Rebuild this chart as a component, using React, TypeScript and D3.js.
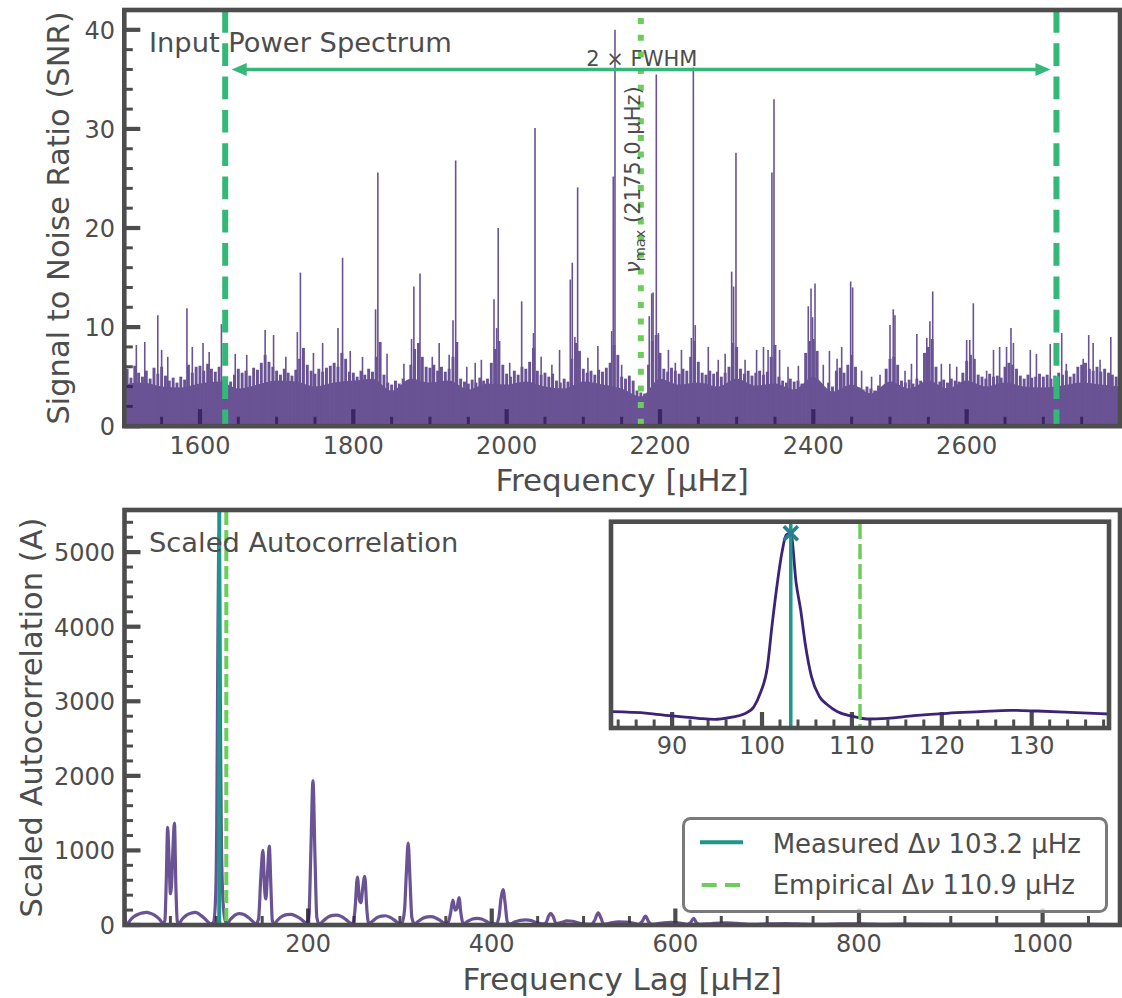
import React from 'react';
import * as d3 from 'd3';

// ---------------- DATA ----------------
// Top panel: power spectrum local maxima, sampled every 5 µHz from 1500 µHz
const bgStartFreq = 1500;
const bgStepFreq = 5;
const bgSnr = [
  5.2,5.8,4.9,6.1,5.4,5.0,5.6,4.8,5.9,5.3,6.0,5.1,4.6,4.9,4.4,5.0,4.7,6.2,5.4,6.0,
  6.1,5.6,6.3,5.8,5.5,6.0,4.6,4.2,4.5,5.2,5.8,5.4,5.6,5.1,5.9,5.7,6.4,7.2,6.5,6.0,
  5.6,5.2,5.8,5.4,5.1,5.7,6.8,7.9,6.2,5.6,5.3,5.8,5.5,5.9,6.1,6.4,6.0,7.4,6.8,5.5,
  5.4,5.0,5.6,5.2,5.8,5.5,7.0,8.5,5.2,4.4,4.2,4.6,4.3,4.8,4.5,6.2,7.8,8.4,7.0,6.0,
  5.9,6.2,5.6,6.0,5.5,5.8,7.0,8.5,4.8,4.5,4.3,4.7,4.4,4.9,4.6,4.8,6.4,7.8,8.6,6.2,
  5.3,5.0,5.6,5.2,6.0,5.8,6.5,7.9,5.6,5.2,5.4,5.0,5.3,4.6,4.4,4.8,4.5,6.8,8.4,7.6,
  5.8,5.4,5.6,5.2,5.7,5.5,5.9,6.4,8.2,7.2,5.0,4.8,5.1,4.6,3.6,3.4,3.3,6.2,8.6,9.2,
  7.4,5.8,5.5,5.9,5.6,5.3,5.8,5.6,7.0,8.6,6.5,5.4,5.2,5.6,5.3,5.5,5.0,5.4,6.0,8.4,
  8.0,5.8,5.3,5.6,5.1,5.4,5.6,5.2,5.5,7.0,8.2,5.0,4.6,4.4,4.8,4.5,4.6,4.3,7.4,8.6,
  8.8,7.6,4.2,3.9,4.4,4.0,5.6,5.9,5.4,6.2,7.2,6.0,3.9,3.7,4.0,3.8,3.6,4.1,3.9,5.8,
  6.8,7.0,6.2,4.6,4.4,4.7,4.3,4.8,4.6,7.4,8.0,8.8,6.0,4.5,4.7,4.4,4.8,4.6,4.5,5.4,
  6.6,7.2,6.8,5.2,5.0,4.8,5.3,5.0,5.1,4.9,6.0,6.4,6.2,5.8,5.1,4.8,5.2,4.9,5.0,5.3,
  5.0,5.2,4.8,5.1,5.4,5.2,5.6,5.0,5.3,6.0,6.2,6.4,5.8,5.6,6.0,5.5,5.8,5.4,5.2,5.0,
];

// Solid lower band of the spectrum, sampled every 25 µHz from 1500 µHz
const floorStepFreq = 25;
const floorSnr = [
  4.2,4.4,4.0,3.9, 4.3,4.5,3.8,4.2, 4.6,4.5,4.0,4.4, 4.6,4.8,3.6,4.8, 4.4,4.6,3.7,4.3,
  4.2,4.5,4.0,3.8, 4.5,4.2,3.8,3.0, 4.8,4.2,4.4,4.0, 4.8,4.1,4.3,3.7, 5.0,3.5,4.2,3.3,
  4.5,3.8,4.6,3.8, 4.6,4.0,4.4,4.0, 3.9,4.1,4.4,4.2, 4.0,
];

// Individual spikes (mode peaks and noise spikes)
const spikeFreq = [
  1517,1528,1545,1550,1558,1583,1590,1604,1612,1628,1646,1661,1685,1696,1712,1727,1731,1748,1760,1780,
  1786,1796,1812,1829,1832,1844,1866,1876,1879,1887,1903,1912,1925,1930,1933.5,
  1948,1959,1967,1983.5,1987,1989,2004,2019.6,2035,2037,2045,2059,2069,2083,2085.6,2089,2092.6,2106,2119,
  2137,2139.1,2141.3,2150,2186,2189.2,2191,2195.2,2198,2211,2220,2228,2241,2243.5,2246,2263,2276,2285,
  2293.5,2296,2299.1,2311,2326,2335,2341,2346,2348.7,2356,2367,
  2380.5,2393.4,2397,2399,2402.2,2413,2421,2431,2437,2448.7,2451.3,2463,2476,2487,2500,2504.3,2506.5,
  2519.6,2528,2535,2548,2552,2555.7,2567,2578,2587,2600,2604,2608.7,2626,2635,2643,2652,2657.8,2661,
  2683,2691,2709,2724,2730,2752,2759.2,2765,2774,2788,
];
const spikeSnr = [
  8.2,8.5,11.2,7.7,7.0,11.9,8.0,8.4,7.5,10.3,7.3,7.2,9.7,9.2,7.0,9.5,15.5,7.4,8.4,9.9,
  17.0,7.6,7.0,11.8,25.6,7.3,6.3,8.8,14.1,15.4,7.0,8.4,7.2,10.7,26.8,
  6.0,6.4,6.7,12.8,9.9,20.0,6.4,12.6,9.4,30.1,7.0,6.2,7.7,14.8,16.5,9.0,24.1,6.9,8.1,
  9.6,25.2,40.0,6.2,11.1,13.4,13.5,35.5,9.4,7.7,6.4,7.7,8.9,36.2,10.2,8.0,6.7,7.3,
  15.6,14.1,27.6,6.7,7.7,8.0,7.7,25.6,33.0,7.7,6.0,
  6.1,12.1,13.9,11.0,14.4,6.2,7.6,6.8,8.0,14.6,14.0,5.6,5.0,5.2,10.2,11.8,11.2,
  5.6,6.3,9.3,8.9,10.6,13.6,6.3,6.3,6.0,8.7,8.7,12.4,5.6,7.7,8.0,8.0,9.9,8.4,
  7.7,7.3,8.3,9.4,6.3,6.8,9.2,8.4,6.7,9.0,
];

const numax = 2175.0;
const fwhmEdges = [1632.9, 2717.1];

// Bottom panel: scaled autocorrelation vs frequency lag
const acfLag = [
  0,1.5,3,6,10,15,20,24,28,33,38,42,44,45.5,47,48.5,50,51.5,53,54.4,56,57.5,59,63,68,73,77,82,87,91,94,97,
  99,100.5,101.7,102.5,103.2,104,104.8,105.6,106.8,108,110,112,115,120,125,130,135,140,143,146,148.5,150.8,
  152.5,154,155.8,157.7,159.5,161,163,167,172,177,181,186,191,196,199,201,203,205.3,207.5,209.5,212,217,
  222,227,231,236,241,246,249,251,253.7,256,257.5,259.5,261.7,264,266,270,275,280,284,289,294,299,302,305,
  307,309,311,313,316,320,325,330,334,339,344,349,352,355,357.7,360,362,364.3,366.5,369,374,379,384,389,
  394,399,405,408,410,412.3,414.5,417,420,425,431,437,443,449,455,459,462,464.3,467,470,476,482,488,494,
  500,508,512,515.9,519,522,530,538,546,554,560,564,567.5,571,575,585,595,605,613,617,620,623,627,640,655,
  670,680,700,720,740,760,780,800,830,860,900,950,1000,1050,1084,
];
const acfValue = [
  250,30,10,60,110,145,162,168,158,130,80,25,60,600,1310,900,420,600,1100,1365,500,50,20,80,135,160,168,140,90,40,15,40,
  300,1400,3800,5000,5260,3900,2200,1100,450,200,50,20,70,130,152,140,100,45,15,80,650,1000,
  500,350,700,1058,500,60,15,70,120,140,142,125,90,40,15,150,1000,1933,900,100,15,60,
  110,130,133,115,75,25,20,200,644,330,300,500,653,200,15,50,100,120,124,105,65,20,15,200,
  700,1098,600,100,15,50,90,108,111,95,60,20,20,150,333,200,220,369,150,15,50,80,89,80,
  50,15,15,120,350,476,300,40,15,40,62,70,60,30,15,30,120,156,110,20,35,55,50,30,
  12,10,60,164,90,10,30,42,40,25,10,50,120,40,10,25,35,25,10,40,90,30,8,20,28,
  20,8,15,20,12,8,14,16,10,12,10,8,10,8,6,
];

// Inset (zoom around the measured Δν)
const insetLag = [
  83.2,87.3,89.7,92.9,94.7,96.5,98.0,99.1,99.8,100.6,101.1,101.7,102.2,102.7,103.2,103.8,104.3,104.8,
  105.5,106.4,107.3,108.4,109.9,111.7,113.9,116.9,120.6,124.3,127.6,130.6,134.3,138.6,
];
const insetValue = [
  244,199,131,58,30,86,179,385,762,1512,2639,3861,4706,5222,5270,3861,3109,2171,
  1230,667,433,244,123,39,58,131,199,244,284,264,227,179,
];

const measuredDnu = 103.2;
const empiricalDnu = 110.9;
const peakValue = 5270;

const topXTicks = [1600, 1800, 2000, 2200, 2400, 2600];
const topYTicks = [0, 10, 20, 30, 40];
const botXTicks = [200, 400, 600, 800, 1000];
const botYTicks = [0, 1000, 2000, 3000, 4000, 5000];
const insetXTicks = [90, 100, 110, 120, 130];

// ---------------- STYLE ----------------
const FONT = "'DejaVu Sans', 'Noto Sans', sans-serif";
const TXT = '#4d4d4d';
const SPINE = '#4d4d4d';
const PURPLE = '#36176f';
const INSET_PURPLE = '#3b2379';
const GREEN = '#35b779';
const LGREEN = '#6ccd5a';
const TEAL = '#1f968b';
const MARK = '#26808e';

export default function App() {
  const tx = d3.scaleLinear().domain([1500, 2800]).range([123.3, 1120]);
  const ty = d3.scaleLinear().domain([0, 42]).range([426.2, 10]);
  const bx = d3.scaleLinear().domain([0, 1084.3]).range([124.5, 1120]);
  const by = d3.scaleLinear().domain([0, 5565]).range([925, 510]);
  const ix = d3.scaleLinear().domain([83.2, 138.6]).range([611, 1109]);
  const iy = d3.scaleLinear().domain([-215, 5596]).range([728, 521.7]);

  const floorPts = floorSnr.map((v, i) => [bgStartFreq + i * floorStepFreq, v] as [number, number]);
  const floorArea = d3.area<[number, number]>()
    .x(d => tx(d[0])).y0(ty(0)).y1(d => ty(d[1])).curve(d3.curveMonotoneX)(floorPts) || '';

  const acfPts = acfLag.map((l, i) => [l, acfValue[i]] as [number, number]);
  const acfPath = d3.line<[number, number]>().x(d => bx(d[0])).y(d => by(d[1])).curve(d3.curveMonotoneX)(acfPts) || '';
  const insetPts = insetLag.map((l, i) => [l, insetValue[i]] as [number, number]);
  const insetPath = d3.line<[number, number]>().x(d => ix(d[0])).y(d => iy(d[1])).curve(d3.curveMonotoneX)(insetPts) || '';

  const range = (a: number, b: number, s: number) => d3.range(a, b + 1e-9, s);

  const topXMinor = range(1550, 2800, 50).filter(v => v % 200 !== 0);
  const topYMinor = range(2, 42, 2).filter(v => v % 10 !== 0);
  const botXMinor = range(50, 1084, 50).filter(v => v % 200 !== 0);
  const botYMinor = range(200, 5565, 200).filter(v => v % 1000 !== 0);
  const insetMinor = range(84, 138.6, 2).filter(v => v % 10 !== 0);

  const L_TOP = 124.3, R = 1120;

  const vTicks = (xs: number[], sc: (v: number) => number, y0: number, len: number, w: number, key: string) =>
    xs.map(v => <line key={key + v} x1={sc(v)} x2={sc(v)} y1={y0} y2={y0 - len} stroke={SPINE} strokeWidth={w} />);
  const hTicks = (ys: number[], sc: (v: number) => number, x0: number, len: number, w: number, key: string) =>
    ys.map(v => <line key={key + v} x1={x0} x2={x0 + len} y1={sc(v)} y2={sc(v)} stroke={SPINE} strokeWidth={w} />);

  const arrowY = 69.5;
  const aL = tx(fwhmEdges[0]) + 6.5;
  const aR = tx(fwhmEdges[1]) - 6;

  return (
    <svg width={1122} height={998} style={{ position: 'absolute', left: 0, top: 0, background: '#fff' }}
      fontFamily={FONT}>
      <defs>
        <clipPath id="topClip"><rect x={L_TOP} y={10} width={R - L_TOP} height={416.2} /></clipPath>
        <clipPath id="botClip"><rect x={124.5} y={510} width={R - 124.5} height={415} /></clipPath>
        <clipPath id="inClip"><rect x={611} y={521.7} width={498} height={206.3} /></clipPath>
      </defs>

      {/* ============ TOP PANEL ============ */}
      {vTicks(topXTicks, tx, 426.2, 17, 4.2, 'tx')}
      {vTicks(topXMinor, tx, 426.2, 9.5, 3, 'txm')}
      {hTicks(topYTicks, ty, L_TOP, 16, 4.2, 'ty')}
      {hTicks(topYMinor, ty, L_TOP, 8.5, 3, 'tym')}

      <g clipPath="url(#topClip)" opacity={0.74}>
        <path d={floorArea} fill={PURPLE} />
        {bgSnr.map((v, i) => {
          const f = bgStartFreq + i * bgStepFreq;
          return <line key={'bg' + i} x1={tx(f)} x2={tx(f)} y1={ty(0)} y2={ty(v)} stroke={PURPLE} strokeWidth={2.9} />;
        })}
        {spikeFreq.map((f, i) => (
          <line key={'sp' + i} x1={tx(f)} x2={tx(f)} y1={ty(0)} y2={ty(spikeSnr[i])} stroke={PURPLE} strokeWidth={1.6} />
        ))}
      </g>

      {fwhmEdges.map((f, i) => (
        <line key={'fw' + i} x1={tx(f)} x2={tx(f)} y1={10} y2={426} stroke={GREEN} strokeWidth={6}
          strokeDasharray="22.7 10.6" />
      ))}
      <line x1={tx(numax)} x2={tx(numax)} y1={18} y2={426} stroke={LGREEN} strokeWidth={6} strokeDasharray="6 10.7" />

      <line x1={aL + 10} x2={aR - 10} y1={arrowY} y2={arrowY} stroke={GREEN} strokeWidth={3.5} />
      <path d={`M${aL},${arrowY} L${aL + 15},${arrowY - 6.5} L${aL + 15},${arrowY + 6.5} Z`} fill={GREEN} />
      <path d={`M${aR},${arrowY} L${aR - 15},${arrowY - 6.5} L${aR - 15},${arrowY + 6.5} Z`} fill={GREEN} />
      <text x={tx(numax) + 1} y={66} fontSize={21} fill={TXT} textAnchor="middle">2 × FWHM</text>

      <text transform={`translate(${tx(numax) - 1},273) rotate(-90)`} fontSize={21} fill={TXT}>
        <tspan fontStyle="italic">ν</tspan>
        <tspan fontSize={14.5} dy={5}>max</tspan>
        <tspan dy={-5}> (2175.0 μHz)</tspan>
      </text>

      <text x={149} y={52} fontSize={27.3} fill={TXT}>Input Power Spectrum</text>

      <rect x={L_TOP} y={10} width={R - L_TOP} height={416.2} fill="none" stroke={SPINE} strokeWidth={4.6} />

      {topXTicks.map(v => (
        <text key={'txl' + v} x={tx(v)} y={454} fontSize={24} fill={TXT} textAnchor="middle">{v}</text>
      ))}
      {topYTicks.map(v => (
        <text key={'tyl' + v} x={115} y={ty(v) + 9} fontSize={24} fill={TXT} textAnchor="end">{v}</text>
      ))}
      <text x={(L_TOP + R) / 2} y={491} fontSize={31} fill={TXT} textAnchor="middle">Frequency [μHz]</text>
      <text transform={`translate(69,218) rotate(-90)`} fontSize={30.5} fill={TXT} textAnchor="middle">
        Signal to Noise Ratio (SNR)
      </text>

      {/* ============ BOTTOM PANEL ============ */}
      {vTicks(botXTicks, bx, 925, 16.5, 4.2, 'bx')}
      {vTicks(botXMinor, bx, 925, 9, 3, 'bxm')}
      {hTicks(botYTicks, by, 124.5, 16, 4.2, 'by')}
      {hTicks(botYMinor, by, 124.5, 8.5, 3, 'bym')}

      <g clipPath="url(#botClip)">
        <path d={acfPath} fill="none" stroke={PURPLE} strokeOpacity={0.74} strokeWidth={3.2} strokeLinejoin="round" />
      </g>
      <line x1={bx(measuredDnu)} x2={bx(measuredDnu)} y1={510} y2={925} stroke={TEAL} strokeWidth={4} />
      <line x1={bx(empiricalDnu)} x2={bx(empiricalDnu)} y1={512} y2={925} stroke={LGREEN} strokeWidth={4}
        strokeDasharray="13 5" />

      <text x={149} y={551.7} fontSize={27.3} fill={TXT}>Scaled Autocorrelation</text>

      {/* inset */}
      <rect x={611} y={521.7} width={498} height={206.3} fill="#fff" />
      {vTicks(insetXTicks, ix, 728, 16, 4.2, 'ix')}
      {vTicks(insetMinor, ix, 728, 8.5, 3, 'ixm')}
      <g clipPath="url(#inClip)">
        <path d={insetPath} fill="none" stroke={INSET_PURPLE} strokeWidth={2.8} strokeLinejoin="round" />
        <line x1={ix(measuredDnu)} x2={ix(measuredDnu)} y1={521.7} y2={728} stroke={TEAL} strokeWidth={3.5} />
        <line x1={ix(empiricalDnu)} x2={ix(empiricalDnu)} y1={524} y2={728} stroke={LGREEN} strokeWidth={3.5}
          strokeDasharray="15 5" />
        <g stroke={MARK} strokeWidth={3.8}>
          <line x1={ix(measuredDnu) - 7} x2={ix(measuredDnu) + 7} y1={iy(peakValue) - 7} y2={iy(peakValue) + 7} />
          <line x1={ix(measuredDnu) - 7} x2={ix(measuredDnu) + 7} y1={iy(peakValue) + 7} y2={iy(peakValue) - 7} />
        </g>
      </g>
      <rect x={611} y={521.7} width={498} height={206.3} fill="none" stroke={SPINE} strokeWidth={4.6} />
      {insetXTicks.map(v => (
        <text key={'ixl' + v} x={ix(v)} y={754} fontSize={24} fill={TXT} textAnchor="middle">{v}</text>
      ))}

      {/* legend */}
      <rect x={683.5} y={818.5} width={423} height={93} rx={7} fill="#fff" fillOpacity={0.8}
        stroke="#7a7a7a" strokeWidth={3} />
      <line x1={700} x2={743} y1={842.3} y2={842.3} stroke={TEAL} strokeWidth={4} />
      <text x={772.7} y={852.5} fontSize={26} fill={TXT}>
        Measured Δ<tspan fontStyle="italic">ν</tspan> 103.2 μHz
      </text>
      <line x1={701.7} x2={741} y1={885} y2={885} stroke={LGREEN} strokeWidth={4} strokeDasharray="15 8.3" />
      <text x={772.7} y={894} fontSize={26} fill={TXT}>
        Empirical Δ<tspan fontStyle="italic">ν</tspan> 110.9 μHz
      </text>

      <rect x={124.5} y={510} width={R - 124.5} height={415} fill="none" stroke={SPINE} strokeWidth={4.6} />

      {botXTicks.map(v => (
        <text key={'bxl' + v} x={bx(v)} y={952} fontSize={24} fill={TXT} textAnchor="middle">{v}</text>
      ))}
      {botYTicks.map(v => (
        <text key={'byl' + v} x={115} y={by(v) + 9} fontSize={24} fill={TXT} textAnchor="end">{v}</text>
      ))}
      <text x={(124.5 + R) / 2} y={990} fontSize={31} fill={TXT} textAnchor="middle">Frequency Lag [μHz]</text>
      <text transform={`translate(41.5,717.5) rotate(-90)`} fontSize={30.5} fill={TXT} textAnchor="middle">
        Scaled Autocorrelation (A)
      </text>
    </svg>
  );
}
